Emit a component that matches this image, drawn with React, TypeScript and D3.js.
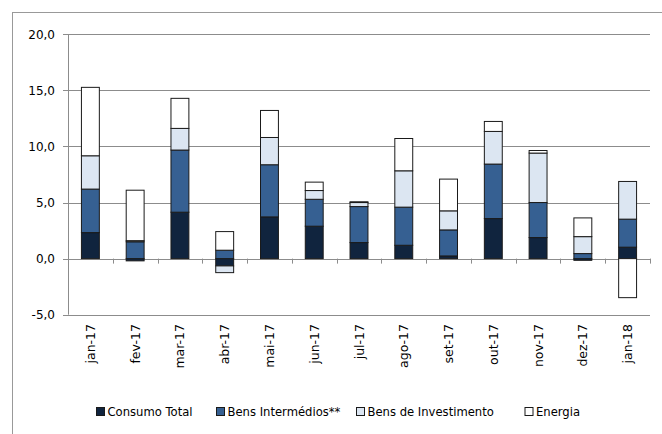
import React, { useEffect } from "react";
import * as d3 from "d3";

const categories = ["jan-17","fev-17","mar-17","abr-17","mai-17","jun-17","jul-17","ago-17","set-17","out-17","nov-17","dez-17","jan-18"];
const seriesNames = ["Consumo Total","Bens Intermédios**","Bens de Investimento","Energia"];
const consumo = [2.32, -0.2, 4.14, -0.65, 3.72, 2.89, 1.43, 1.19, 0.24, 3.57, 1.88, -0.15, 1.02];
const intermedios = [3.88, 1.5, 5.54, 0.75, 4.65, 2.4, 3.21, 3.4, 2.32, 4.86, 3.12, 0.45, 2.5];
const investimento = [2.97, 0.1, 1.93, -0.6, 2.43, 0.78, 0.36, 3.24, 1.7, 2.91, 4.41, 1.51, 3.36];
const energia = [6.1, 4.5, 2.68, 1.66, 2.41, 0.75, 0.07, 2.88, 2.83, 0.89, 0.23, 1.67, -3.48];
const yTicks = [-5, 0, 5, 10, 15, 20];
const colors = ["#10243e", "#366092", "#dce6f2", "#ffffff"];

export default function App() {
  useEffect(() => {
    document.body.style.margin = "0";
  }, []);
  const W = 662, H = 434;
  const x = d3.scaleBand<string>().domain(categories).range([68, 650]).paddingInner(0.6).paddingOuter(0.3);
  const y = d3.scaleLinear().domain([-5, 20]).range([314.7, 34.3]);
  const rows = categories.map((c, i) => ({
    cat: c,
    s0: consumo[i], s1: intermedios[i], s2: investimento[i], s3: energia[i],
  }));
  const stack = d3.stack<any>().keys(["s0","s1","s2","s3"]).offset(d3.stackOffsetDiverging);
  const layers = stack(rows);
  const font = "'DejaVu Sans', Verdana, sans-serif";
  const step = x.step();
  const x0 = 68;
  const fmt = (v: number) => d3.format(".1f")(v).replace(".", ",").replace("−", "-");
  const legendX = [96.5, 216.5, 356.5, 525];
  return (
    <svg width={W} height={H} style={{ position: "absolute", left: 0, top: 0, background: "#fff" }}>
      <rect x={12.5} y={12.5} width={W} height={H} fill="#fff" stroke="#999" strokeWidth={1} />
      {yTicks.map(t => (
        <g key={t}>
          <line x1={63} x2={650} y1={Math.round(y(t)) + 0.5} y2={Math.round(y(t)) + 0.5} stroke="#8c8c8c" strokeWidth={1} />
          <text x={55} y={y(t)} dy="0.36em" textAnchor="end" fontFamily={font} fontSize={12} fill="#000">{fmt(t)}</text>
        </g>
      ))}
      <line x1={68.5} x2={68.5} y1={y(20)} y2={y(-5)} stroke="#8c8c8c" strokeWidth={1} />
      {d3.range(categories.length + 1).map(i => (
        <line key={i} x1={Math.round(x0 + i * step) + 0.5} x2={Math.round(x0 + i * step) + 0.5} y1={y(0)} y2={y(0) + 5} stroke="#8c8c8c" strokeWidth={1} />
      ))}
      {layers.map((layer, li) => (
        <g key={li}>
          {layer.map((d, i) => {
            const top = y(Math.max(d[0], d[1]));
            const bot = y(Math.min(d[0], d[1]));
            if (bot - top < 0.01) return null;
            return (
              <rect key={i} x={x(categories[i])!} y={top} width={x.bandwidth()} height={bot - top}
                fill={colors[li]} stroke="#1a1a1a" strokeWidth={1} />
            );
          })}
        </g>
      ))}
      {categories.map(c => (
        <text key={c} transform={`translate(${x(c)! + x.bandwidth() / 2},324) rotate(-90)`} dy="0.36em" textAnchor="end"
          fontFamily={font} fontSize={12.5} fill="#000">{c}</text>
      ))}
      {seriesNames.map((n, i) => (
        <g key={n}>
          <rect x={legendX[i]} y={407.5} width={8} height={8} fill={colors[i]} stroke="#1a1a1a" strokeWidth={1} />
          <text x={legendX[i] + 11} y={411.5} dy="0.36em" fontFamily={font} fontSize={11.6} fill="#000">{n}</text>
        </g>
      ))}
    </svg>
  );
}
